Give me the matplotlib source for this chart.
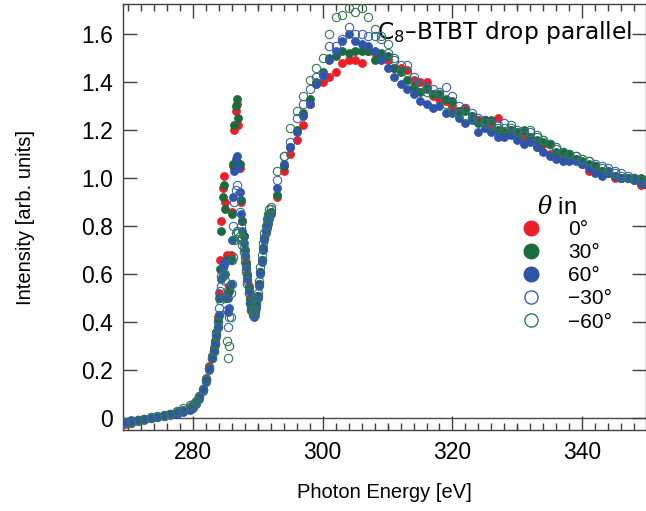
import matplotlib
matplotlib.use("Agg")
import matplotlib.pyplot as plt
from matplotlib.ticker import MultipleLocator
from matplotlib.lines import Line2D

plt.rcParams['font.family'] = ['Liberation Sans', 'DejaVu Sans']
plt.rcParams['mathtext.fontset'] = 'custom'
plt.rcParams['mathtext.rm'] = 'DejaVu Sans'
plt.rcParams['mathtext.it'] = 'DejaVu Serif:italic'

# ---------------- data ----------------
energy = [269.5, 270.5, 271.5, 272.5, 273.5, 274.5, 275.5, 276.5, 277.5, 278.5, 279.5,
          280.0, 280.5, 281.0, 281.5, 282.0, 282.5,
          283.0, 283.2, 283.4, 283.6, 283.8, 284.0, 284.2, 284.4, 284.6, 284.8,
          285.0, 285.2, 285.4, 285.6, 285.8, 286.0, 286.2, 286.4, 286.6, 286.8,
          287.0, 287.2, 287.4, 287.6, 287.8, 288.0, 288.2, 288.4, 288.6, 288.8,
          289.0, 289.2, 289.4, 289.6, 289.8, 290.0, 290.2, 290.4, 290.6, 290.8,
          291.0, 291.2, 291.4, 291.6, 291.8, 292.0,
          293, 294, 295, 296, 297, 298, 299, 300, 301, 302, 303, 304, 305, 306, 307, 308,
          309, 310, 311, 312, 313, 314, 315, 316, 317, 318, 319, 320, 321, 322, 323, 324,
          325, 326, 327, 328, 329, 330, 331, 332, 333, 334, 335, 336, 337, 338, 339, 340,
          341, 342, 343, 344, 345, 346, 347, 348, 349, 350]

int_0 = [-0.025, -0.015, -0.012, -0.005, 0.000, 0.004, 0.010, 0.015, 0.022, 0.030, 0.040,
         0.050, 0.068, 0.088, 0.120, 0.165, 0.215,
         0.26, 0.29, 0.32, 0.36, 0.42, 0.52, 0.66, 0.82, 0.96, 1.01,
         0.90, 0.68, 0.52, 0.55, 0.68, 0.86, 1.05, 1.20, 1.28, 1.31,
         1.22, 1.04, 0.90, 0.82, 0.76, 0.70, 0.65, 0.60, 0.55, 0.50,
         0.46, 0.44, 0.43, 0.44, 0.47, 0.51, 0.56, 0.61, 0.66, 0.71,
         0.75, 0.78, 0.80, 0.82, 0.84, 0.86,
         0.92, 1.03, 1.10, 1.16, 1.22, 1.31, 1.39, 1.40, 1.42, 1.44, 1.48, 1.49, 1.49, 1.48, 1.53, 1.52,
         1.51, 1.49, 1.46, 1.46, 1.45, 1.41, 1.40, 1.40, 1.34, 1.33, 1.32, 1.30, 1.28, 1.29, 1.26, 1.24,
         1.24, 1.22, 1.25, 1.19, 1.20, 1.18, 1.17, 1.17, 1.13, 1.14, 1.10, 1.10, 1.09, 1.08, 1.08, 1.06,
         1.03, 1.05, 1.03, 1.02, 1.00, 1.00, 1.00, 0.99, 0.97, 0.98]

int_30 = [-0.020, -0.018, -0.010, -0.008, 0.002, 0.006, 0.008, 0.016, 0.020, 0.028, 0.038,
          0.048, 0.065, 0.085, 0.118, 0.160, 0.210,
          0.26, 0.29, 0.32, 0.36, 0.41, 0.50, 0.62, 0.78, 0.92, 0.97,
          0.87, 0.66, 0.50, 0.53, 0.66, 0.85, 1.06, 1.22, 1.30, 1.33,
          1.25, 1.06, 0.91, 0.82, 0.76, 0.70, 0.64, 0.59, 0.54, 0.49,
          0.46, 0.44, 0.43, 0.44, 0.47, 0.51, 0.56, 0.61, 0.66, 0.71,
          0.75, 0.78, 0.80, 0.82, 0.84, 0.86,
          0.93, 1.05, 1.13, 1.20, 1.27, 1.33, 1.40, 1.44, 1.50, 1.51, 1.53, 1.52, 1.53, 1.53, 1.53, 1.49,
          1.52, 1.51, 1.46, 1.44, 1.41, 1.38, 1.36, 1.37, 1.35, 1.35, 1.33, 1.32, 1.28, 1.28, 1.26, 1.23,
          1.24, 1.24, 1.20, 1.19, 1.20, 1.19, 1.20, 1.17, 1.16, 1.15, 1.14, 1.11, 1.11, 1.10, 1.08, 1.07,
          1.06, 1.05, 1.03, 1.02, 1.01, 1.00, 1.00, 1.00, 1.00, 0.99]

int_60 = [-0.015, -0.010, -0.012, -0.004, 0.000, 0.005, 0.012, 0.014, 0.018, 0.025, 0.032,
          0.040, 0.058, 0.080, 0.112, 0.150, 0.200,
          0.25, 0.28, 0.31, 0.34, 0.38, 0.43, 0.50, 0.58, 0.63, 0.65,
          0.60, 0.50, 0.44, 0.46, 0.56, 0.74, 0.92, 1.03, 1.08, 1.09,
          1.04, 0.94, 0.85, 0.78, 0.73, 0.68, 0.63, 0.58, 0.53, 0.48,
          0.45, 0.43, 0.42, 0.43, 0.46, 0.50, 0.55, 0.60, 0.65, 0.70,
          0.74, 0.77, 0.79, 0.81, 0.83, 0.85,
          0.96, 1.06, 1.13, 1.19, 1.26, 1.31, 1.39, 1.43, 1.49, 1.53, 1.57, 1.60, 1.57, 1.56, 1.55, 1.53,
          1.49, 1.46, 1.42, 1.39, 1.37, 1.35, 1.32, 1.31, 1.29, 1.30, 1.27, 1.27, 1.25, 1.23, 1.24, 1.19,
          1.21, 1.19, 1.17, 1.17, 1.18, 1.16, 1.14, 1.15, 1.13, 1.11, 1.09, 1.08, 1.07, 1.07, 1.07, 1.06,
          1.04, 1.02, 1.01, 1.03, 1.01, 1.00, 1.00, 0.99, 0.98, 0.97]

int_m30 = [-0.022, -0.014, -0.008, -0.006, 0.001, 0.004, 0.009, 0.017, 0.024, 0.034, 0.045,
           0.052, 0.066, 0.086, 0.116, 0.158, 0.205,
           0.25, 0.28, 0.31, 0.35, 0.40, 0.46, 0.53, 0.59, 0.63, 0.64,
           0.57, 0.45, 0.38, 0.42, 0.52, 0.66, 0.80, 0.90, 0.95, 0.97,
           0.93, 0.86, 0.80, 0.75, 0.71, 0.67, 0.62, 0.57, 0.52, 0.48,
           0.45, 0.43, 0.43, 0.44, 0.47, 0.51, 0.56, 0.61, 0.66, 0.71,
           0.75, 0.78, 0.81, 0.83, 0.85, 0.87,
           0.99, 1.09, 1.15, 1.25, 1.31, 1.37, 1.42, 1.43, 1.55, 1.55, 1.58, 1.63, 1.60, 1.60, 1.59, 1.59,
           1.58, 1.52, 1.49, 1.47, 1.47, 1.42, 1.39, 1.38, 1.37, 1.36, 1.38, 1.34, 1.30, 1.29, 1.27, 1.25,
           1.24, 1.23, 1.22, 1.23, 1.22, 1.20, 1.19, 1.19, 1.18, 1.16, 1.14, 1.13, 1.11, 1.10, 1.09, 1.08,
           1.07, 1.06, 1.05, 1.04, 1.03, 1.02, 1.01, 1.00, 0.99, 0.99]

int_m60 = [-0.018, -0.020, -0.010, -0.003, 0.003, 0.008, 0.011, 0.018, 0.028, 0.040, 0.054,
           0.058, 0.070, 0.090, 0.122, 0.162, 0.208,
           0.25, 0.28, 0.31, 0.34, 0.38, 0.43, 0.49, 0.55, 0.59, 0.60,
           0.50, 0.32, 0.25, 0.30, 0.42, 0.56, 0.67, 0.74, 0.77, 0.78,
           0.77, 0.76, 0.74, 0.72, 0.69, 0.65, 0.61, 0.56, 0.52, 0.48,
           0.45, 0.44, 0.44, 0.45, 0.48, 0.52, 0.57, 0.63, 0.68, 0.73,
           0.77, 0.80, 0.83, 0.85, 0.87, 0.88,
           1.03, 1.09, 1.21, 1.28, 1.34, 1.41, 1.46, 1.50, 1.60, 1.67, 1.68, 1.71, 1.69, 1.71, 1.67, 1.62,
           1.59, 1.56, 1.50, 1.45, 1.44, 1.40, 1.38, 1.36, 1.35, 1.35, 1.31, 1.28, 1.27, 1.26, 1.25, 1.24,
           1.23, 1.22, 1.21, 1.21, 1.21, 1.19, 1.18, 1.20, 1.17, 1.16, 1.14, 1.12, 1.11, 1.10, 1.09, 1.08,
           1.07, 1.05, 1.04, 1.03, 1.02, 1.01, 1.00, 1.00, 0.99, 0.99]

series_labels = ["0°", "30°", "60°", "\u221230°", "\u221260°"]
x_ticks = [280, 300, 320, 340]
y_ticks = [0, 0.2, 0.4, 0.6, 0.8, 1.0, 1.2, 1.4, 1.6]
y_ticklabels = ["0", "0.2", "0.4", "0.6", "0.8", "1.0", "1.2", "1.4", "1.6"]

RED = "#ec1f28"
GREEN = "#1b6b3c"
BLUE = "#2d55a8"
OBLUE = "#3d5fb8"
OGREEN = "#2f7a4d"

# ---------------- figure ----------------
fig = plt.figure(figsize=(6.46, 5.11), dpi=100)
ax = fig.add_axes([122.5 / 646, 81 / 511, 523 / 646, 426 / 511])

ms = 5.8
ax.plot(energy, int_0, 'o', ms=ms, color=RED, mec=RED, mew=0.5, zorder=3)
ax.plot(energy, int_30, 'o', ms=ms, color=GREEN, mec=GREEN, mew=0.5, zorder=4)
ax.plot(energy, int_60, 'o', ms=ms, color=BLUE, mec=BLUE, mew=0.5, zorder=5)
ax.plot(energy, int_m30, 'o', ms=ms + 0.2, mfc='none', mec=OBLUE, mew=0.8, zorder=6)
ax.plot(energy, int_m60, 'o', ms=ms + 0.2, mfc='none', mec=OGREEN, mew=0.8, zorder=7)

ax.axhline(0, color="#4a4a4a", lw=1.0, zorder=1)

ax.set_xlim(269.15, 349.75)
ax.set_ylim(-0.05, 1.725)

ax.set_xticks(x_ticks)
ax.xaxis.set_minor_locator(MultipleLocator(2))
ax.set_yticks(y_ticks)
ax.set_yticklabels(y_ticklabels)
ax.tick_params(which='both', direction='in', top=True, right=True, color="#404040", width=1.0)
ax.tick_params(which='major', length=10, labelsize=16.5, pad=7)
ax.tick_params(which='minor', length=5)
ax.tick_params(axis='x', which='major', pad=8)

# medium ticks at 10 eV positions
for xv in [290, 310, 330]:
    ax.plot([xv, xv], [-0.05, -0.05 + 0.0185], color="#404040", lw=1.0, clip_on=False, zorder=2)
    ax.plot([xv, xv], [1.725, 1.725 - 0.0185], color="#404040", lw=1.0, clip_on=False, zorder=2)

for sp in ax.spines.values():
    sp.set_color("#404040")
    sp.set_linewidth(1.0)

ax.set_xlabel("Photon Energy [eV]", fontsize=14.5)
ax.set_ylabel("Intensity [arb. units]", fontsize=14.5)
ax.xaxis.set_label_coords(0.5, -0.125)
ax.yaxis.set_label_coords(-0.168, 0.5)

ax.text(0.975, 0.965, "C$_\\mathregular{8}$\u2013BTBT drop parallel", transform=ax.transAxes,
        ha='right', va='top', fontsize=16.8, family=['DejaVu Sans'])

# legend title
ax.text(0.792, 0.522, r"$\theta$ in", transform=ax.transAxes, ha='left', va='center',
        fontsize=17)

handles = [
    Line2D([], [], ls='none', marker='o', ms=10.5, color=RED),
    Line2D([], [], ls='none', marker='o', ms=10.5, color=GREEN),
    Line2D([], [], ls='none', marker='o', ms=10.5, color=BLUE),
    Line2D([], [], ls='none', marker='o', ms=9.5, mfc='none', mec=OBLUE, mew=1.0),
    Line2D([], [], ls='none', marker='o', ms=9.5, mfc='none', mec=OGREEN, mew=1.0),
]
leg = ax.legend(handles, series_labels, loc='upper left',
                bbox_to_anchor=(0.762, 0.493), frameon=False, fontsize=15,
                handlelength=1.0, handletextpad=1.25,
                labelspacing=0.2, borderaxespad=0, borderpad=0)

fig.savefig("out.png", dpi=100)
